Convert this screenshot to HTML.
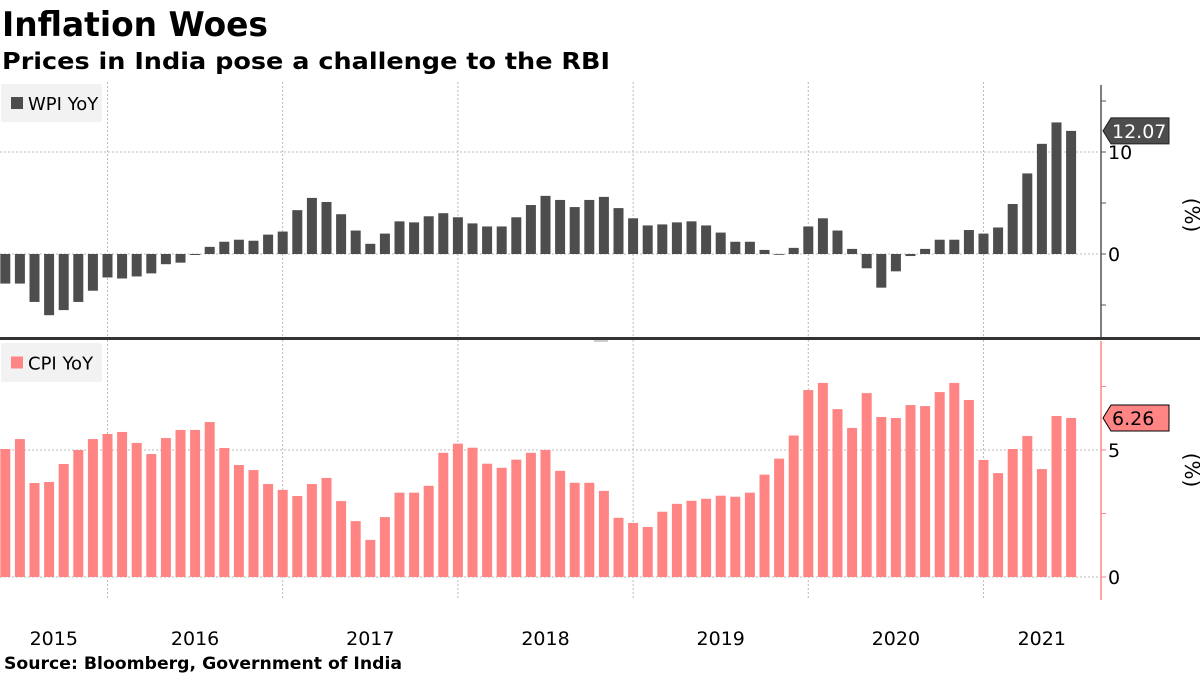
<!DOCTYPE html>
<html><head><meta charset="utf-8">
<style>
body{margin:0;background:#fff;width:1200px;height:675px;overflow:hidden;font-family:"Liberation Sans",sans-serif;}
svg text{font-family:"DejaVu Sans","Liberation Sans",sans-serif;}
</style></head><body>
<svg id="chart" width="1200" height="675" xmlns="http://www.w3.org/2000/svg">
<text x="2" y="36" font-size="34" font-weight="bold" fill="#000" textLength="266" lengthAdjust="spacingAndGlyphs">Inflation Woes</text>
<text x="2" y="69" font-size="23" font-weight="bold" fill="#000" textLength="608" lengthAdjust="spacingAndGlyphs">Prices in India pose a challenge to the RBI</text>
<g id="grid"></g>
<g id="bars"></g>
<g id="axes"></g>
<text x="4" y="669" font-size="17" font-weight="bold" fill="#000" textLength="398" lengthAdjust="spacingAndGlyphs">Source: Bloomberg, Government of India</text>
</svg>
<script>
const months = ["2015-05","2015-06","2015-07","2015-08","2015-09","2015-10","2015-11","2015-12",
"2016-01","2016-02","2016-03","2016-04","2016-05","2016-06","2016-07","2016-08","2016-09","2016-10","2016-11","2016-12",
"2017-01","2017-02","2017-03","2017-04","2017-05","2017-06","2017-07","2017-08","2017-09","2017-10","2017-11","2017-12",
"2018-01","2018-02","2018-03","2018-04","2018-05","2018-06","2018-07","2018-08","2018-09","2018-10","2018-11","2018-12",
"2019-01","2019-02","2019-03","2019-04","2019-05","2019-06","2019-07","2019-08","2019-09","2019-10","2019-11","2019-12",
"2020-01","2020-02","2020-03","2020-04","2020-05","2020-06","2020-07","2020-08","2020-09","2020-10","2020-11","2020-12",
"2021-01","2021-02","2021-03","2021-04","2021-05","2021-06"];
const wpi = [-2.9,-2.9,-4.7,-6.0,-5.5,-4.7,-3.6,-2.3,
-2.4,-2.2,-1.9,-1.0,-0.85,-0.1,0.7,1.2,1.4,1.3,1.9,2.2,
4.3,5.5,5.1,3.9,2.3,1.0,2.0,3.2,3.1,3.7,4.0,3.6,
3.0,2.7,2.7,3.6,4.8,5.7,5.3,4.6,5.3,5.6,4.5,3.5,
2.8,2.9,3.1,3.2,2.8,2.1,1.2,1.2,0.4,-0.05,0.6,2.7,
3.5,2.3,0.5,-1.4,-3.3,-1.7,-0.2,0.5,1.4,1.4,2.35,2.0,
2.6,4.9,7.9,10.8,12.9,12.07];
const cpi = [5.04,5.43,3.7,3.74,4.45,5.0,5.43,5.63,
5.71,5.28,4.84,5.47,5.79,5.79,6.1,5.08,4.41,4.21,3.66,3.43,
3.19,3.66,3.9,2.99,2.2,1.46,2.36,3.32,3.32,3.59,4.89,5.25,
5.09,4.46,4.3,4.62,4.89,5.0,4.18,3.71,3.71,3.39,2.33,2.13,
1.97,2.57,2.88,3.0,3.08,3.2,3.16,3.32,4.03,4.66,5.57,7.36,
7.64,6.61,5.87,7.24,6.3,6.26,6.77,6.73,7.28,7.64,6.97,4.61,
4.09,5.04,5.55,4.25,6.34,6.26];
const years = ["2015","2016","2017","2018","2019","2020","2021"];
const wpiTicks = [-5,0,5,10,15];
const cpiTicks = [0,2.5,5,7.5];
const wpiLast = "12.07";
const cpiLast = "6.26";

const NS="http://www.w3.org/2000/svg";
const MW=175.2/12;
const PLOT_L=0, PLOT_R=1100;
function xm(i){return 107.5+(i-7)*MW;}
function yW(v){return 254-v*10.2;}
function yC(v){return 577-v*25.4;}
function mk(tag,attrs,parent){const e=document.createElementNS(NS,tag);for(const k in attrs)e.setAttribute(k,attrs[k]);parent.appendChild(e);return e;}
const grid=document.getElementById('grid'),bars=document.getElementById('bars'),axes=document.getElementById('axes');

for(let y=0;y<years.length;y++){
  const gx=xm(7+12*(y-1));
  const gx2=gx+MW*12;
  if(y>0){
    const l1=mk('line',{x1:gx,x2:gx,y1:82,y2:337,stroke:'#bbb','stroke-dasharray':'2,2'},grid);
    
    
    const l2=mk('line',{x1:gx,x2:gx,y1:340,y2:598,stroke:'#bbb','stroke-dasharray':'2,2'},grid);
    
    
  }
  const a=Math.max(gx,PLOT_L), b=Math.min(gx2,PLOT_R);
  const t=mk('text',{x:(a+b)/2,y:645,'font-size':19,'text-anchor':'middle',fill:'#000'},axes);
  t.textContent=years[y];
  
  
}
wpiTicks.forEach(v=>{if(v===0||v===10){const l=mk('line',{x1:0,x2:1100,y1:yW(v),y2:yW(v),stroke:'#bbb','stroke-dasharray':'2,2'},grid);

}});
cpiTicks.forEach(v=>{if(v===0||v===5){const l=mk('line',{x1:0,x2:1100,y1:yC(v),y2:yC(v),stroke:'#bbb','stroke-dasharray':'2,2'},grid);

}});

const BW=10;
wpi.forEach((v,i)=>{const y0=yW(0),y1=yW(v);
  const r=mk('rect',{x:xm(i)-BW/2,y:Math.min(y0,y1),width:BW,height:Math.max(0.8,Math.abs(y1-y0)),fill:'#4d4d4d'},bars);
  
  });
cpi.forEach((v,i)=>{const y0=yC(0),y1=yC(v);
  const r=mk('rect',{x:xm(i)-BW/2,y:Math.min(y0,y1),width:BW,height:Math.abs(y1-y0),fill:'#ff8585'},bars);
  
  });

const aw=mk('line',{x1:1101,x2:1101,y1:85,y2:337,stroke:'#555','stroke-width':1.5},axes);


wpiTicks.forEach(v=>{mk('line',{x1:1101,x2:1106,y1:yW(v),y2:yW(v),stroke:'#555'},axes);
  if(v===0||v===10){const t=mk('text',{x:1108,y:yW(v)+7,'font-size':19,fill:'#000'},axes);t.textContent=v;
  
  }});
const ac=mk('line',{x1:1101,x2:1101,y1:341,y2:600,stroke:'#ff8585','stroke-width':1.5},axes);


cpiTicks.forEach(v=>{mk('line',{x1:1101,x2:1106,y1:yC(v),y2:yC(v),stroke:'#ff8585'},axes);
  if(v===0||v===5){const t=mk('text',{x:1108,y:yC(v)+7,'font-size':19,fill:'#000'},axes);t.textContent=v;
  
  }});
[[215],[470]].forEach(([cy],k)=>{const t=mk('text',{x:1185,y:cy,'font-size':20,'text-anchor':'middle',fill:'#000',transform:`rotate(90 1185 ${cy})`},axes);
  t.textContent='(%)';
  
  });
function tag(val,yy,fill,txt,stroke,name){
  const g=mk('g',{},axes);
  
  
  mk('path',{d:`M1103 ${yy} L1111 ${yy-13} L1169 ${yy-13} L1169 ${yy+13} L1111 ${yy+13} Z`,fill:fill,stroke:stroke,'stroke-width':1},g);
  const t=mk('text',{x:1112,y:yy+7,'font-size':19,fill:txt},g);t.textContent=val;
}
tag(wpiLast,yW(12.07),'#4d4d4d','#fff','#222','wpi-last-value-tag');
tag(cpiLast,yC(6.26),'#ff8585','#000','#000','cpi-last-value-tag');
const d=mk('rect',{x:0,y:337,width:1200,height:3,fill:'#333'},axes);


mk('rect',{x:594,y:340,width:14,height:2,fill:'#ccc'},axes);
function legend(y,h,color,label,name){
  const g=mk('g',{},axes);
  
  
  mk('rect',{x:1,y:y,width:101,height:h,fill:'#f2f2f2',rx:2},g);
  mk('rect',{x:11,y:y+h/2-6,width:12,height:12,fill:color},g);
  const t=mk('text',{x:28,y:y+h/2+7,'font-size':18,fill:'#000'},g);t.textContent=label;
}
legend(84,38,'#4d4d4d','WPI YoY','wpi-legend');
legend(343,39,'#ff8585','CPI YoY','cpi-legend');
</script>
</body></html>
